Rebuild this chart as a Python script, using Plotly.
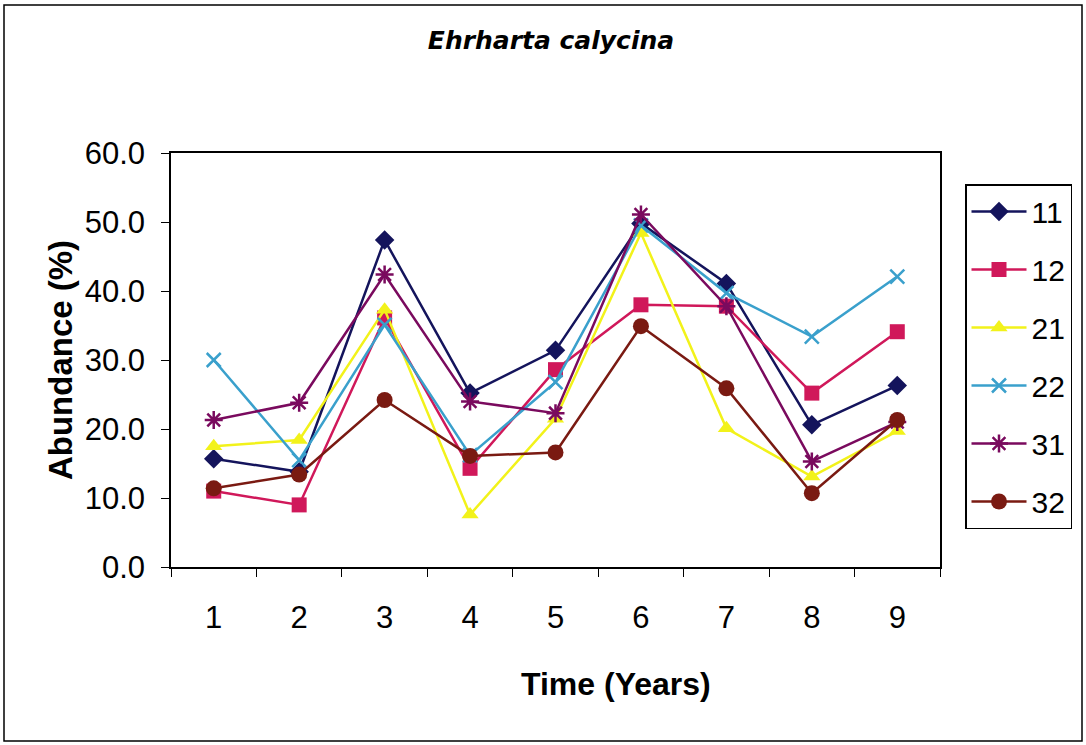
import plotly.graph_objects as go

# Survey years on the x axis
years = ["1", "2", "3", "4", "5", "6", "7", "8", "9"]

# Abundance (%) of Ehrharta calycina per plot
plot_11 = [15.7, 13.8, 47.4, 25.2, 31.4, 49.8, 41.1, 20.6, 26.3]
plot_12 = [11.0, 9.0, 36.1, 14.3, 28.6, 38.0, 37.8, 25.2, 34.1]
plot_21 = [17.5, 18.4, 37.3, 7.6, 21.5, 48.4, 20.1, 13.1, 19.7]
plot_22 = [30.0, 15.5, 35.1, 16.2, 26.8, 49.5, 39.7, 33.4, 42.1]
plot_31 = [21.3, 23.8, 42.4, 24.0, 22.3, 51.1, 37.8, 15.3, 21.0]
plot_32 = [11.4, 13.4, 24.2, 16.1, 16.6, 34.9, 25.9, 10.7, 21.3]

series = [
    ("11", plot_11, "#14145c", "diamond", 15),
    ("12", plot_12, "#d0185a", "square", 15),
    ("21", plot_21, "#f2f21a", "triangle-up", 15),
    ("22", plot_22, "#3aa0cc", "x-thin-open", 14),
    ("31", plot_31, "#7a0a5e", "asterisk-open", 15),
    ("32", plot_32, "#7a1a12", "circle", 16),
]

FONT = "Liberation Sans, Arial, sans-serif"

fig = go.Figure()
for name, vals, color, symbol, size in series:
    open_marker = symbol.endswith("open")
    fig.add_trace(go.Scatter(
        x=years, y=vals, name=name, mode="lines+markers",
        legendgroup=name,
        line=dict(color=color, width=2.5),
        marker=dict(symbol=symbol, size=size, color=color,
                    line=dict(color=color, width=2.5 if open_marker else 0)),
    ))

W, H = 1086, 745
L, R, T, B = 171, 146, 153, 178
pw, ph = W - L - R, H - T - B


def px_x(x):
    return (x - L) / pw


def px_y(y):
    return (H - B - y) / ph


fig.update_layout(
    width=W, height=H,
    margin=dict(l=L, r=R, t=T, b=B, autoexpand=False),
    paper_bgcolor="white", plot_bgcolor="white",
    font=dict(family=FONT, color="black"),
    title=dict(text="<b><i>Ehrharta calycina</i></b>", x=551 / W,
               xanchor="center", y=1 - 40 / H, yanchor="middle",
               font=dict(family="DejaVu Sans", size=25)),
    showlegend=True,
    legend=dict(x=px_x(965), y=px_y(184), xanchor="left", yanchor="top",
                bordercolor="black", borderwidth=1.5, bgcolor="white",
                font=dict(size=30), traceorder="grouped", tracegroupgap=16,
                itemwidth=55),
    shapes=[dict(type="rect", xref="paper", yref="paper",
                 x0=px_x(4), x1=px_x(1082), y0=px_y(741), y1=px_y(5),
                 line=dict(color="black", width=1.5), layer="below")],
    annotations=[dict(text="<b>Time (Years)</b>", xref="paper", yref="paper",
                      x=px_x(616), y=px_y(684), xanchor="center",
                      yanchor="middle", showarrow=False,
                      font=dict(size=32))],
)

fig.update_xaxes(
    type="category", range=[-0.5, 8.5], tickson="boundaries",
    ticks="outside", ticklen=8, tickcolor="black", showline=True,
    mirror=True, linecolor="black", linewidth=1.5, showgrid=False,
    automargin=False, tickfont=dict(size=31), ticklabelstandoff=22,
)
fig.update_yaxes(
    range=[0, 60], dtick=10, tickformat=".1f", ticks="outside", ticklen=8,
    tickcolor="black", showline=True, mirror=True, linecolor="black",
    linewidth=1.5, showgrid=False, zeroline=False, automargin=False,
    tickfont=dict(size=31), ticklabelstandoff=10,
    title=dict(text="<b>Abundance (%)</b>", font=dict(size=33), standoff=2),
)

fig.write_html("out.html")
